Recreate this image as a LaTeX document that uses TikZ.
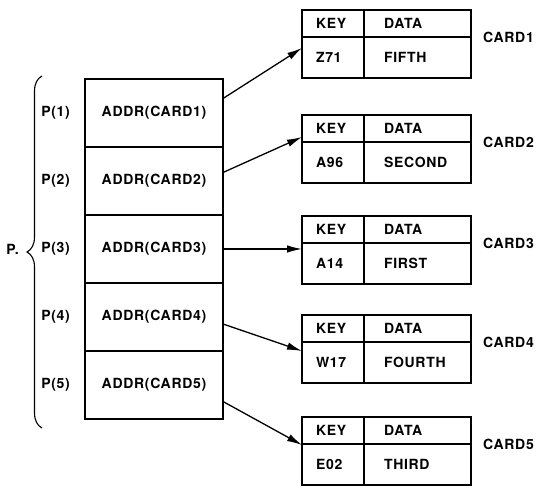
\documentclass[tikz,border=0pt]{standalone}
\usepackage{fontspec}
\setmainfont{TeX Gyre Heros}[LetterSpace=5]
\usetikzlibrary{positioning,arrows.meta,decorations.pathreplacing}

\begin{document}
\begin{tikzpicture}[
  x=1pt, y=-1pt,
  >={Latex[length=15pt,width=7.5pt]},
  cell/.style={rectangle, draw=black, line width=1.6pt, outer sep=0pt, font=\bfseries\fontsize{14}{16}\selectfont},
  addr/.style={cell, minimum width=138pt, minimum height=68pt},
  keyhead/.style={cell, minimum height=27pt, text width=34pt, inner xsep=14pt, align=left},
  datahead/.style={cell, minimum height=27pt, text width=67pt, inner xsep=20pt, align=left},
  keycell/.style={keyhead, minimum height=41pt},
  datacell/.style={datahead, minimum height=41pt},
  lbl/.style={inner sep=0pt, font=\bfseries\fontsize{14}{16}\selectfont},
  ptr/.style={line width=1.3pt},
  brc/.style={decorate, decoration={brace, amplitude=15pt}, line width=1.1pt}
]
\useasboundingbox (0,0) rectangle (538,494);

% the pointer array P
\node[addr, anchor=north west] (a1) at (85,79) {ADDR(CARD1)};
\node[addr, below=0pt of a1] (a2) {ADDR(CARD2)};
\node[addr, below=0pt of a2] (a3) {ADDR(CARD3)};
\node[addr, below=0pt of a3] (a4) {ADDR(CARD4)};
\node[addr, below=0pt of a4] (a5) {ADDR(CARD5)};

\node[lbl, left=15pt of a1] (p1) {P(1)};
\node[lbl, left=15pt of a2] (p2) {P(2)};
\node[lbl, left=15pt of a3] (p3) {P(3)};
\node[lbl, left=15pt of a4] (p4) {P(4)};
\node[lbl, left=15pt of a5] (p5) {P(5)};
\node[lbl, left=22pt of p3] (pname) {P.};

\draw[brc] ([xshift=-43pt,yshift=-9pt]a5.south west) -- ([xshift=-43pt,yshift=3pt]a1.north west);

% the cards
\node[keyhead, anchor=north west] (kh1) at (302,10) {KEY};
\node[datahead, right=0pt of kh1] (dh1) {DATA};
\node[keycell, below=0pt of kh1] (kb1) {Z71};
\node[datacell, right=0pt of kb1] (db1) {FIFTH};
\node[lbl, right=12pt of dh1.south east] (c1) {CARD1};

\node[keyhead, anchor=north west] (kh2) at (302,115) {KEY};
\node[datahead, right=0pt of kh2] (dh2) {DATA};
\node[keycell, below=0pt of kh2] (kb2) {A96};
\node[datacell, right=0pt of kb2] (db2) {SECOND};
\node[lbl, right=12pt of dh2.south east] (c2) {CARD2};

\node[keyhead, anchor=north west] (kh3) at (302,216) {KEY};
\node[datahead, right=0pt of kh3] (dh3) {DATA};
\node[keycell, below=0pt of kh3] (kb3) {A14};
\node[datacell, right=0pt of kb3] (db3) {FIRST};
\node[lbl, right=12pt of dh3.south east] (c3) {CARD3};

\node[keyhead, anchor=north west] (kh4) at (302,315) {KEY};
\node[datahead, right=0pt of kh4] (dh4) {DATA};
\node[keycell, below=0pt of kh4] (kb4) {W17};
\node[datacell, right=0pt of kb4] (db4) {FOURTH};
\node[lbl, right=12pt of dh4.south east] (c4) {CARD4};

\node[keyhead, anchor=north west] (kh5) at (302,417) {KEY};
\node[datahead, right=0pt of kh5] (dh5) {DATA};
\node[keycell, below=0pt of kh5] (kb5) {E02};
\node[datacell, right=0pt of kb5] (db5) {THIRD};
\node[lbl, right=12pt of dh5.south east] (c5) {CARD5};

% pointers
\draw[->, ptr] ([yshift=14.5pt]a1.east) -- ([yshift=-11pt]kb1.north west);
\draw[->, ptr] ([yshift=8.5pt]a2.east) -- ([yshift=5pt]kb2.north west);
\draw[->, ptr] (a3.east) -- (kb3.north west |- a3.east);
\draw[->, ptr] ([yshift=-7pt]a4.east) -- ([yshift=-9pt]kb4.north west);
\draw[->, ptr] ([yshift=-16.5pt]a5.east) -- ([yshift=-1pt]kb5.north west);

\end{tikzpicture}
\end{document}
